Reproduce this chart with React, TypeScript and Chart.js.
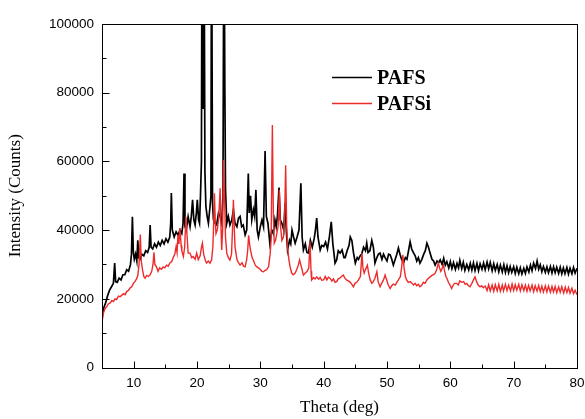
import React, { useEffect, useRef } from "react";
import { Chart, registerables } from "chart.js";

Chart.register(...registerables);

// ---- Data ----
const seriesLabels = ["PAFS", "PAFSi"];

const pafsTheta = [
  5.0, 5.3, 5.6, 5.9, 6.2, 6.5, 6.8, 7.0, 7.15, 7.4,
  7.7, 8.0, 8.3, 8.6, 8.9, 9.2, 9.5, 9.65, 9.8, 9.95,
  10.1, 10.3, 10.5, 10.65, 10.8, 11.0, 11.3, 11.6, 11.9, 12.2,
  12.45, 12.6, 12.75, 13.0, 13.3, 13.6, 13.9, 14.2, 14.5, 14.8,
  15.1, 15.4, 15.7, 15.85, 15.95, 16.1, 16.4, 16.7, 17.0, 17.3,
  17.6, 17.8, 17.95, 18.1, 18.3, 18.6, 18.9, 19.1, 19.3, 19.5,
  19.7, 19.9, 20.05, 20.25, 20.4, 20.55, 20.7, 20.8, 20.95, 21.1,
  21.25, 21.4, 21.6, 21.8, 22.05, 22.2, 22.3, 22.45, 22.6, 22.85,
  23.1, 23.4, 23.65, 23.9, 24.1, 24.25, 24.4, 24.5, 24.7, 24.95,
  25.2, 25.5, 25.75, 26.0, 26.3, 26.55, 26.8, 27.05, 27.3, 27.6,
  27.85, 28.1, 28.25, 28.45, 28.65, 28.9, 29.1, 29.3, 29.5, 29.7,
  30.0, 30.25, 30.5, 30.75, 30.95, 31.2, 31.5, 31.8, 32.05, 32.3,
  32.5, 32.7, 32.95, 33.15, 33.4, 33.7, 33.9, 34.1, 34.3, 34.6,
  34.8, 35.0, 35.25, 35.5, 35.8, 36.1, 36.4, 36.6, 36.8, 37.1,
  37.35, 37.6, 37.9, 38.2, 38.5, 38.7, 38.9, 39.1, 39.45, 39.7,
  40.0, 40.3, 40.6, 40.9, 41.2, 41.45, 41.8, 42.05, 42.3, 42.6,
  42.9, 43.2, 43.4, 43.7, 44.0, 44.2, 44.45, 44.7, 45.0, 45.3,
  45.5, 45.75, 46.0, 46.3, 46.6, 46.8, 47.0, 47.3, 47.6, 47.85,
  48.1, 48.4, 48.65, 48.9, 49.2, 49.45, 49.7, 50.0, 50.25, 50.5,
  50.75, 51.0, 51.3, 51.55, 51.8, 52.05, 52.3, 52.6, 52.9, 53.15,
  53.4, 53.65, 53.9, 54.15, 54.45, 54.7, 54.95, 55.2, 55.5, 55.8,
  56.05, 56.3, 56.55, 56.8, 57.1, 57.35, 57.6, 57.9, 58.15, 58.4,
  58.7, 58.95, 59.2, 59.45, 59.75, 60.0, 60.25, 60.5, 60.8, 61.05,
  61.3, 61.5, 61.8, 62.05, 62.3, 62.6, 62.9, 63.15, 63.4, 63.65,
  63.9, 64.2, 64.45, 64.7, 65.0, 65.25, 65.5, 65.8, 66.05, 66.3,
  66.6, 66.85, 67.1, 67.4, 67.65, 67.9, 68.2, 68.45, 68.7, 68.95,
  69.2, 69.45, 69.7, 70.0, 70.25, 70.5, 70.8, 71.05, 71.3, 71.6,
  71.85, 72.1, 72.4, 72.65, 72.9, 73.15, 73.45, 73.7, 73.95, 74.2,
  74.45, 74.7, 75.0, 75.25, 75.5, 75.8, 76.05, 76.3, 76.55, 76.8,
  77.1, 77.35, 77.6, 77.85, 78.1, 78.4, 78.65, 78.9, 79.2, 79.45,
  79.7, 80.0,
];

const pafsCounts = [
  14500, 17500, 19000, 21000, 22500, 23500, 24500, 30400, 25000, 24800,
  26000, 25500, 27000, 27000, 28500, 28000, 30000, 33000, 43900, 33500,
  31500, 33000, 31000, 37000, 32000, 31500, 33000, 32500, 34000, 33500,
  35000, 41500, 35000, 34500, 36000, 35000, 36500, 35500, 37000, 36000,
  37500, 36500, 38000, 42000, 50800, 40000, 38000, 39500, 38500, 40000,
  39000, 42000, 56500, 41000, 40000, 43900, 41000, 44000, 48800, 43000,
  41500, 45000, 48800, 43000, 42000, 50000, 60000, 140000, 75500, 140000,
  57000, 47000, 44000, 42000, 46800, 50000, 140000, 48000, 43000, 42000,
  41500, 45000, 44000, 42000, 50000, 140000, 81000, 52000, 42000, 44000,
  41500, 43000, 45900, 42000, 41000, 43500, 44000, 41000, 41500, 38600,
  40000, 56500, 45000, 50000, 43000, 46000, 44000, 51700, 40000, 38000,
  41000, 42900, 41000, 63000, 44000, 42000, 36200, 40000, 39000, 43000,
  41000, 44000, 52400, 43000, 42000, 40000, 47800, 40000, 34200, 37000,
  36000, 40000, 38000, 36200, 38000, 40000, 53600, 38000, 34200, 36000,
  33500, 33300, 37000, 35000, 37500, 40000, 43500, 38000, 34200, 35500,
  35200, 36500, 34500, 38000, 42400, 36000, 30400, 31300, 34000, 33300,
  34200, 32000, 32000, 34000, 35500, 38000, 37000, 33500, 30400, 32000,
  31500, 32500, 33000, 35000, 34000, 36200, 33500, 34000, 37000, 35000,
  30400, 32000, 33000, 33300, 31500, 33000, 32000, 31000, 33000, 32800,
  31500, 29800, 31500, 33000, 34800, 33000, 31500, 30400, 32000, 31500,
  34000, 36600, 34500, 33500, 32500, 31000, 32000, 30400, 31500, 33000,
  34000, 36200, 35000, 33300, 31500, 31000, 29800, 31000, 30500, 31300,
  30000, 31800, 29800, 30800, 29000, 30800, 28800, 30500, 28600, 30300,
  29000, 31200, 28800, 30600, 28300, 30000, 28400, 30300, 28400, 30400,
  28200, 30300, 28200, 30200, 28600, 30400, 28500, 30700, 28700, 30600,
  28200, 30200, 28300, 30000, 27900, 29800, 27800, 29900, 27700, 29600,
  27600, 29400, 27700, 29300, 27400, 29200, 27300, 29000, 27200, 28900,
  27400, 29300, 27800, 29800, 28200, 30400, 28800, 31000, 28600, 29900,
  27900, 29400, 27700, 29300, 27600, 29400, 27500, 29300, 27600, 29200,
  27400, 29200, 27300, 29000, 27300, 29100, 27200, 28900, 27300, 29100,
  27500, 28900,
];

const pafsiTheta = [
  5.0, 5.25, 5.5, 5.75, 6.0, 6.3, 6.55, 6.8, 7.05, 7.3,
  7.6, 7.85, 8.1, 8.4, 8.65, 8.9, 9.2, 9.45, 9.7, 9.95,
  10.2, 10.45, 10.65, 10.85, 11.05, 11.2, 11.4, 11.6, 11.8, 12.05,
  12.3, 12.6, 12.85, 13.05, 13.2, 13.35, 13.6, 13.85, 14.1, 14.4,
  14.65, 14.9, 15.2, 15.45, 15.75, 16.0, 16.25, 16.5, 16.7, 16.85,
  17.0, 17.15, 17.3, 17.5, 17.6, 17.85, 18.05, 18.25, 18.45, 18.6,
  18.9, 19.15, 19.4, 19.7, 19.95, 20.2, 20.5, 20.7, 20.85, 21.05,
  21.3, 21.5, 21.8, 22.05, 22.3, 22.5, 22.65, 22.75, 22.9, 23.0,
  23.2, 23.4, 23.55, 23.65, 23.8, 23.9, 24.05, 24.2, 24.35, 24.5,
  24.7, 24.95, 25.2, 25.45, 25.6, 25.75, 25.9, 26.0, 26.3, 26.55,
  26.8, 27.1, 27.35, 27.6, 27.85, 28.0, 28.15, 28.3, 28.45, 28.7,
  28.95, 29.2, 29.45, 29.7, 30.0, 30.25, 30.5, 30.75, 31.0, 31.3,
  31.55, 31.7, 31.9, 32.05, 32.2, 32.4, 32.6, 32.8, 33.0, 33.15,
  33.4, 33.65, 33.85, 34.0, 34.15, 34.3, 34.5, 34.7, 34.95, 35.2,
  35.5, 35.75, 36.0, 36.2, 36.45, 36.8, 37.1, 37.4, 37.65, 37.85,
  38.0, 38.1, 38.4, 38.65, 38.9, 39.2, 39.45, 39.7, 40.0, 40.25,
  40.5, 40.75, 41.0, 41.3, 41.55, 41.8, 42.05, 42.3, 42.55, 42.8,
  43.1, 43.35, 43.6, 43.9, 44.2, 44.45, 44.7, 44.95, 45.2, 45.5,
  45.8, 46.05, 46.2, 46.4, 46.6, 46.9, 47.1, 47.35, 47.6, 47.85,
  48.1, 48.4, 48.6, 48.9, 49.15, 49.45, 49.7, 49.95, 50.2, 50.5,
  50.75, 51.0, 51.3, 51.55, 51.8, 52.1, 52.3, 52.5, 52.7, 52.9,
  53.1, 53.35, 53.65, 53.95, 54.2, 54.45, 54.7, 54.95, 55.2, 55.5,
  55.75, 56.0, 56.3, 56.55, 56.8, 57.1, 57.35, 57.6, 57.85, 58.1,
  58.3, 58.5, 58.7, 58.9, 59.1, 59.3, 59.45, 59.7, 59.95, 60.2,
  60.45, 60.7, 61.0, 61.25, 61.5, 61.8, 62.1, 62.35, 62.6, 62.85,
  63.1, 63.4, 63.65, 63.9, 64.15, 64.4, 64.7, 64.95, 65.2, 65.5,
  65.8, 66.05, 66.3, 66.6, 66.85, 67.1, 67.4, 67.65, 67.9, 68.2,
  68.4, 68.7, 68.95, 69.2, 69.5, 69.75, 70.0, 70.25, 70.5, 70.8,
  71.05, 71.3, 71.6, 71.85, 72.1, 72.35, 72.6, 72.9, 73.15, 73.4,
  73.7, 73.95, 74.2, 74.45, 74.7, 75.0, 75.25, 75.5, 75.8, 76.05,
  76.3, 76.55, 76.8, 77.1, 77.35, 77.6, 77.9, 78.15, 78.4, 78.65,
  78.9, 79.2, 79.45, 79.7, 80.0,
];

const pafsiCounts = [
  13300, 16000, 17200, 17700, 18500, 18800, 19500, 19200, 20000, 19800,
  20800, 20600, 21000, 21500, 21200, 22100, 22500, 23200, 23500, 24500,
  25000, 25800, 26700, 30000, 38700, 31000, 28400, 26500, 26000, 26800,
  26500, 27000, 28000, 30000, 33500, 30000, 29300, 28000, 29000, 28600,
  29300, 29000, 29800, 29500, 30500, 30800, 32000, 33000, 35200, 33500,
  38600, 36000, 40600, 35500, 34000, 32300, 35000, 43900, 38000, 33300,
  33300, 32000, 32300, 31500, 33300, 31400, 32500, 35000, 36200, 33000,
  31300, 30400, 31000, 30400, 31300, 35000, 43000, 50700, 42000, 39000,
  40000, 43000, 48000, 52200, 40000, 34200, 40000, 60400, 50000, 38000,
  33300, 32000, 31300, 33000, 40000, 48800, 40000, 35200, 31500, 30500,
  29800, 30500, 29500, 29300, 31500, 34000, 38500, 36000, 34200, 32000,
  31000, 29800, 29300, 29000, 28500, 28000, 27900, 28300, 28500, 29300,
  33000, 37100, 70600, 45000, 36200, 37000, 39000, 41000, 51700, 42000,
  37000, 38000, 45000, 58900, 42000, 35200, 31500, 29300, 27500, 27000,
  27500, 28500, 29800, 31300, 29500, 26900, 27500, 28000, 29000, 36600,
  28000, 25500, 26200, 25800, 26400, 25700, 26200, 25400, 25500, 26500,
  25500, 26300, 26000, 25200, 25800, 24800, 25000, 25800, 26000, 26500,
  26900, 26000, 25500, 25200, 24800, 24200, 23500, 24500, 24800, 25500,
  26500, 33300, 29000, 27500, 28500, 29800, 27500, 25500, 24500, 25000,
  26000, 27900, 25000, 23500, 24500, 25500, 26900, 25500, 24000, 23000,
  23800, 24300, 24000, 24800, 25500, 26400, 29000, 32800, 29000, 26500,
  25500, 24800, 25000, 24500, 24000, 24500, 23800, 24200, 23500, 24000,
  24800, 24500, 25500, 26000, 26400, 26800, 27000, 27400, 28500, 30400,
  29000, 28000, 28800, 29800, 28000, 26500, 26000, 24800, 24000, 23000,
  24000, 24500, 24500, 24000, 25200, 24800, 25000, 24200, 24500, 23800,
  23500, 24500, 25500, 26400, 25000, 24000, 23500, 23800, 23200, 23700,
  22400, 24100, 22300, 24000, 22200, 24100, 22300, 24200, 22200, 24000,
  22300, 24200, 22400, 24000, 22300, 24300, 22400, 24100, 22500, 24200,
  22300, 24100, 22400, 24000, 22200, 23900, 22300, 24000, 22100, 23800,
  22200, 23900, 22100, 23700, 22000, 23800, 22000, 23700, 21900, 23600,
  22000, 23600, 21800, 23500, 21900, 23500, 21700, 23400, 21800, 23300,
  21600, 23100, 21500, 22500, 21200,
];

const xTickValues = [10, 20, 30, 40, 50, 60, 70, 80];
const xMinorTickValues = [15, 25, 35, 45, 55, 65, 75];
const yTickValues = [0, 20000, 40000, 60000, 80000, 100000];
const yMinorTickValues = [10000, 30000, 50000, 70000, 90000];

const xTitle = "Theta (deg)";
const yTitle = "Intensity (Counts)";

const SERIF = '"Times New Roman", "Liberation Serif", "DejaVu Serif", serif';
const SANS = 'Arial, "Liberation Sans", Helvetica, sans-serif';
const BLACK = "#000000";
const RED = "#ee2b2b";

const framePlugin = {
  id: "frameTicks",
  afterDatasetsDraw(chart: any) {
    const { ctx, chartArea, scales } = chart;
    const l = Math.round(chartArea.left);
    const r = Math.round(chartArea.right);
    const t = Math.round(chartArea.top);
    const b = Math.round(chartArea.bottom);
    ctx.save();
    ctx.strokeStyle = "#000";
    ctx.lineWidth = 1;
    ctx.strokeRect(l + 0.5, t + 0.5, r - l, b - t);
    ctx.beginPath();
    const drawX = (vals: number[], len: number) => {
      vals.forEach((v) => {
        const px = Math.round(scales.x.getPixelForValue(v)) + 0.5;
        ctx.moveTo(px, b + 0.5);
        ctx.lineTo(px, b + 0.5 - len);
      });
    };
    const drawY = (vals: number[], len: number) => {
      vals.forEach((v) => {
        const py = Math.round(scales.y.getPixelForValue(v)) + 0.5;
        ctx.moveTo(l + 0.5, py);
        ctx.lineTo(l + 0.5 + len, py);
      });
    };
    drawX(xTickValues, 7);
    drawX(xMinorTickValues, 4);
    drawY(yTickValues, 7);
    drawY(yMinorTickValues, 4);
    ctx.stroke();
    ctx.restore();
  },
};

const legendPlugin = {
  id: "insideLegend",
  afterDraw(chart: any) {
    const { ctx } = chart;
    const ds = chart.data.datasets;
    const rows = [
      { lineY: 77.5, textY: 83.5 },
      { lineY: 103.5, textY: 110 },
    ];
    ctx.save();
    ctx.font = `bold 20px ${SERIF}`;
    ctx.textBaseline = "alphabetic";
    ctx.textAlign = "left";
    rows.forEach((row, i) => {
      ctx.strokeStyle = ds[i].borderColor;
      ctx.lineWidth = 1.5;
      ctx.beginPath();
      ctx.moveTo(332, row.lineY);
      ctx.lineTo(372, row.lineY);
      ctx.stroke();
      ctx.fillStyle = "#000";
      ctx.fillText(ds[i].label, 377, row.textY);
    });
    ctx.restore();
  },
};

export default function App() {
  const canvasRef = useRef<HTMLCanvasElement | null>(null);

  useEffect(() => {
    if (!canvasRef.current) return;
    const chart = new Chart(canvasRef.current, {
      type: "line",
      data: {
        datasets: [
          {
            label: seriesLabels[0],
            data: pafsTheta.map((x, i) => ({ x, y: pafsCounts[i] })),
            borderColor: BLACK,
            borderWidth: 1.7,
            pointRadius: 0,
            tension: 0,
            order: 1,
          },
          {
            label: seriesLabels[1],
            data: pafsiTheta.map((x, i) => ({ x, y: pafsiCounts[i] })),
            borderColor: RED,
            borderWidth: 1.4,
            pointRadius: 0,
            tension: 0,
            order: 0,
          },
        ],
      },
      options: {
        animation: false,
        responsive: false,
        devicePixelRatio: 1,
        layout: { padding: { top: 24, right: 8, left: 0, bottom: 0 } },
        plugins: {
          legend: { display: false },
          tooltip: { enabled: false },
        },
        scales: {
          x: {
            type: "linear",
            min: 5,
            max: 80,
            grid: { display: false, drawTicks: false },
            border: { display: false },
            afterBuildTicks: (s: any) => {
              s.ticks = xTickValues.map((v) => ({ value: v }));
            },
            afterFit: (s: any) => {
              s.height = 51.5;
              s.paddingLeft = 0;
              s.paddingRight = 0;
            },
            ticks: {
              color: "#000",
              font: { family: SANS, size: 13.5 },
              padding: 8,
              maxRotation: 0,
              autoSkip: false,
              callback: (v: any) => String(v),
            },
            title: {
              display: true,
              text: xTitle,
              color: "#000",
              font: { family: SERIF, size: 17 },
              padding: { top: 0, bottom: 1 },
            },
          },
          y: {
            type: "linear",
            min: 0,
            max: 100000,
            grid: { display: false, drawTicks: false },
            border: { display: false },
            afterBuildTicks: (s: any) => {
              s.ticks = yTickValues.map((v) => ({ value: v }));
            },
            afterFit: (s: any) => {
              s.width = 102;
              s.paddingTop = 0;
              s.paddingBottom = 0;
            },
            ticks: {
              color: "#000",
              font: { family: SANS, size: 13.5 },
              padding: 8,
              autoSkip: false,
              callback: (v: any) => String(v),
            },
            title: {
              display: true,
              text: yTitle,
              color: "#000",
              font: { family: SERIF, size: 17 },
              padding: { top: 5, bottom: 0 },
            },
          },
        },
      },
      plugins: [framePlugin, legendPlugin],
    } as any);
    return () => chart.destroy();
  }, []);

  return (
    <div
      style={{
        position: "absolute",
        left: 0,
        top: 0,
        width: 585,
        height: 419,
        background: "#fff",
      }}
    >
      <canvas ref={canvasRef} width={585} height={419} style={{ display: "block" }} />
    </div>
  );
}
